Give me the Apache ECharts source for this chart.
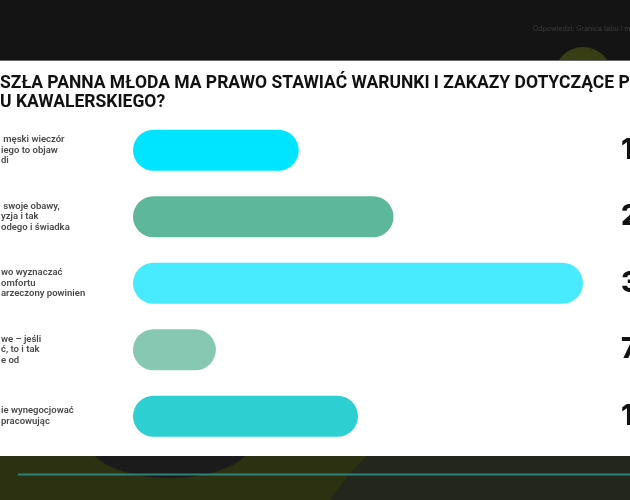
<!DOCTYPE html>
<html>
<head>
<meta charset="utf-8">
<script src="https://cdn.jsdelivr.net/npm/echarts@6/dist/echarts.min.js"></script>
<style>
html,body{margin:0;padding:0;background:#141414;}
#c{width:630px;height:500px;}
</style>
</head>
<body>
<div id="c"></div>
<script>
const titleText = 'SZŁA PANNA MŁODA MA PRAWO STAWIAĆ WARUNKI I ZAKAZY DOTYCZĄCE P\nU KAWALERSKIEGO?';
const headerNote = 'Odpowiedzi: Granica tabu i moralności';
const categories = [
  ' męski wieczór\niego to objaw\ndi',
  ' swoje obawy,\nyzja i tak\nodego i świadka',
  'wo wyznaczać\nomfortu\narzeczony powinien',
  'we – jeśli\nć, to i tak\ne od',
  'ie wynegocjować\npracowując'
];
const values = [14, 22, 38, 7, 19];
const valueLabels = ['14%', '22%', '38%', '7%', '19%'];
const barColors = ['#00e5ff', '#5db89b', '#48ebfe', '#86c8b1', '#2ecfd0'];

const chart = echarts.init(document.getElementById('c'), null, {renderer: 'canvas'});
const FONT = 'Inter, "Noto Sans", sans-serif';
const LFONT = 'Roboto, Inter, sans-serif';
chart.setOption({
  backgroundColor: '#141414',
  animation: false,
  title: {
    text: titleText,
    left: 0,
    top: 74,
    padding: 0,
    z: 10,
    textStyle: {fontFamily: LFONT, fontSize: 17.5, fontWeight: 700, color: '#111111', lineHeight: 19}
  },
  graphic: [
    {type: 'text', left: 533, top: 25, z: -10, style: {text: headerNote, fontFamily: FONT, fontSize: 7, fill: '#3c3c3c'}},
    {type: 'circle', shape: {cx: 583, cy: 76, r: 29}, z: -10, style: {fill: '#393d14'}},
    {type: 'rect', shape: {x: 0, y: 456, width: 630, height: 44}, z: -10, style: {fill: '#2c3111'}},
    {type: 'circle', shape: {cx: 612, cy: 700, r: 346}, z: -9, style: {fill: '#23261a'}},
    {type: 'ellipse', shape: {cx: 170, cy: 440, rx: 83, ry: 38}, z: -9, style: {fill: '#1b1b1b'}},
    {type: 'rect', shape: {x: 0, y: 60, width: 630, height: 396}, z: -8, style: {fill: '#ffffff'}},
    {type: 'rect', shape: {x: 0, y: 60, width: 630, height: 1}, z: -8, style: {fill: '#6a6a6a'}},
    {type: 'line', shape: {x1: 18, y1: 474.5, x2: 630, y2: 474.5}, z: -7, style: {stroke: '#2e8277', lineWidth: 2}}
  ],
  grid: {left: 133, right: 47, top: 117, bottom: 50.5, containLabel: false, outerBoundsMode: 'none'},
  xAxis: {type: 'value', min: 0, max: 38, show: false},
  yAxis: [
    {
      type: 'category', data: categories, inverse: true, position: 'left', z: 10,
      axisLine: {show: false}, axisTick: {show: false}, splitLine: {show: false},
      axisLabel: {align: 'left', margin: 132, padding: [6, 0, 0, 0], fontFamily: LFONT, fontSize: 9.5, fontWeight: 600, color: '#4a4a4a', lineHeight: 10.5, hideOverlap: false}
    },
    {
      type: 'category', data: valueLabels, inverse: true, position: 'right', z: 10,
      axisLine: {show: false}, axisTick: {show: false}, splitLine: {show: false},
      axisLabel: {align: 'left', margin: 38, fontFamily: FONT, fontSize: 28, fontWeight: 800, color: '#111111', hideOverlap: false}
    }
  ],
  series: [{
    type: 'bar',
    z: 3,
    barWidth: 41,
    data: values.map((v, i) => ({value: v, itemStyle: {color: barColors[i], borderRadius: 20.5}}))
  }]
});
</script>
</body>
</html>
